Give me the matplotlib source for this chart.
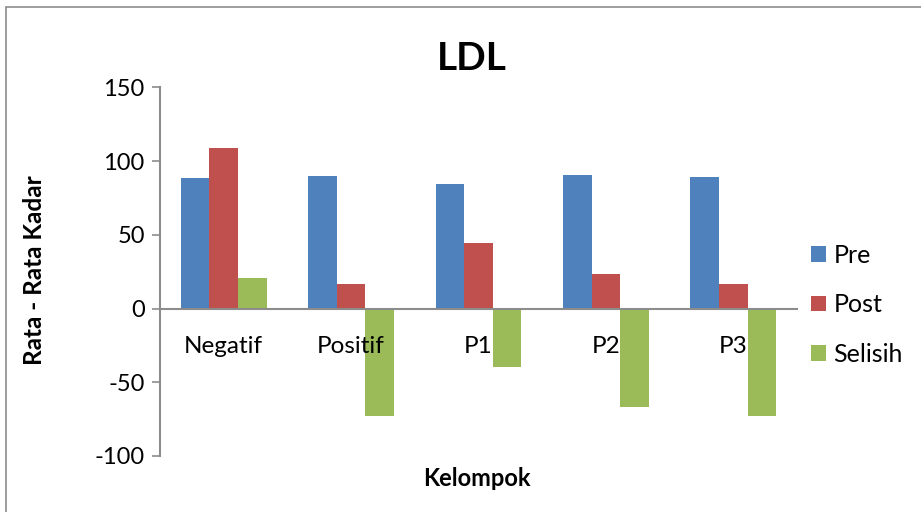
import matplotlib
matplotlib.use("Agg")
import matplotlib.pyplot as plt
import numpy as np
from matplotlib.patches import Rectangle

categories = ["Negatif", "Positif", "P1", "P2", "P3"]
pre = [88.2, 89.7, 84.1, 90.7, 89.3]
post = [108.8, 16.5, 44.5, 23.6, 16.3]
selisih = [20.6, -73.2, -39.6, -67.1, -73.0]
series_names = ["Pre", "Post", "Selisih"]
colors = ["#4F81BD", "#C0504D", "#9BBB59"]
yticks = [-100, -50, 0, 50, 100, 150]

plt.rcParams["font.family"] = ["Lato", "DejaVu Sans"]

W, H = 921, 512
fig = plt.figure(figsize=(W / 100, H / 100), dpi=100)
fig.patches.append(Rectangle((6 / W, -0.1), 1.2, 1.1 - 7 / H,
                             transform=fig.transFigure, fill=False,
                             edgecolor="#8c8c8c", linewidth=1.2))

ax = fig.add_axes([160 / W, 1 - 456 / H, (797 - 160) / W, (456 - 87.3) / H])
ax.set_axisbelow(False)

x = np.arange(len(categories))
width = 0.224
for i, (vals, name, c) in enumerate(zip([pre, post, selisih], series_names, colors)):
    ax.bar(x + (i - 1) * width, vals, width, color=c, label=name, zorder=1)

ax.set_xlim(-0.5, len(categories) - 0.5)
ax.set_ylim(-100, 150)

for s in ["top", "right"]:
    ax.spines[s].set_visible(False)
ax.spines["bottom"].set_position(("data", 0))
for s in ["bottom", "left"]:
    ax.spines[s].set_color("#8c8c8c")
    ax.spines[s].set_linewidth(1.5)

ax.set_yticks(yticks)
ax.set_yticklabels([str(v) for v in yticks])
ax.set_xticks(x)
ax.set_xticklabels(categories)
ax.tick_params(axis="x", length=0, pad=20, labelsize=17.5)
ax.tick_params(axis="y", length=6, width=1.2, color="#8c8c8c", pad=5, labelsize=17)

fig.text(472 / W, 1 - 59 / H, "LDL", fontsize=28, fontweight="bold",
         ha="center", va="center")
fig.text(35 / W, 1 - 270 / H, "Rata - Rata Kadar", fontsize=17.5, fontweight="bold",
         ha="center", va="center", rotation=90)
fig.text(477 / W, 1 - 478 / H, "Kelompok", fontsize=17, fontweight="bold",
         ha="center", va="center")

ax.legend(loc="center left", bbox_to_anchor=(1.0, 0.41), frameon=False,
          fontsize=18, handlelength=0.6, handleheight=0.6, handletextpad=0.3,
          labelspacing=1.05, borderaxespad=0.15)

fig.savefig("out.png", dpi=100)
